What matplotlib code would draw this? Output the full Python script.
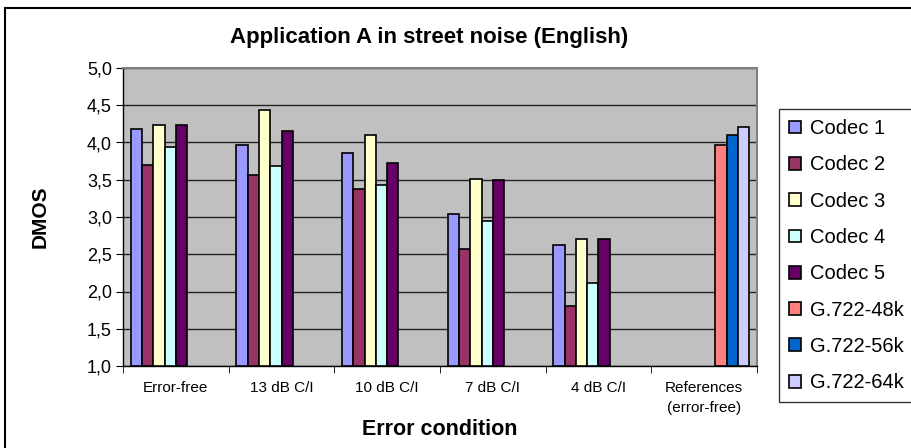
import matplotlib
matplotlib.use("Agg")
import matplotlib.pyplot as plt
import numpy as np
from matplotlib.patches import Rectangle

plt.rcParams['font.family'] = ['Liberation Sans', 'DejaVu Sans']

categories = ["Error-free", "13 dB C/I", "10 dB C/I", "7 dB C/I", "4 dB C/I", "References\n(error-free)"]
series_names = ["Codec 1", "Codec 2", "Codec 3", "Codec 4", "Codec 5", "G.722-48k", "G.722-56k", "G.722-64k"]
codec1 = [4.18, 3.97, 3.86, 3.04, 2.63, None]
codec2 = [3.70, 3.57, 3.38, 2.57, 1.81, None]
codec3 = [4.24, 4.43, 4.10, 3.51, 2.70, None]
codec4 = [3.94, 3.68, 3.43, 2.95, 2.12, None]
codec5 = [4.24, 4.16, 3.73, 3.49, 2.70, None]
g722_48k = [None, None, None, None, None, 3.97]
g722_56k = [None, None, None, None, None, 4.10]
g722_64k = [None, None, None, None, None, 4.21]
colors = ["#9999FF", "#993366", "#FFFFCC", "#CCFFFF", "#660066", "#FF8080", "#0066CC", "#CCCCFF"]
yticks = [1.0, 1.5, 2.0, 2.5, 3.0, 3.5, 4.0, 4.5, 5.0]
ytick_labels = ["1,0", "1,5", "2,0", "2,5", "3,0", "3,5", "4,0", "4,5", "5,0"]

all_series = [codec1, codec2, codec3, codec4, codec5, g722_48k, g722_56k, g722_64k]

W, H = 911, 448
fig = plt.figure(figsize=(W / 100, H / 100), dpi=100)
ax = fig.add_axes([123 / W, 1 - 366 / H, (757 - 123) / W, (366 - 68) / H])
ax.set_facecolor("#C0C0C0")

n = len(all_series)
bw = 0.107
x = np.arange(len(categories))
base = 1.0
for i, (vals, name, col) in enumerate(zip(all_series, series_names, colors)):
    xs, hs = [], []
    for j, v in enumerate(vals):
        if v is not None:
            xs.append(x[j] - n * bw / 2 + (i + 0.5) * bw)
            hs.append(v - base)
    ax.bar(xs, hs, width=bw, bottom=base, color=col, edgecolor="black",
           linewidth=1.2, label=name, zorder=3)

ax.set_xlim(-0.5, len(categories) - 0.5)
ax.set_ylim(1.0, 5.0)
ax.set_yticks(yticks)
ax.set_yticklabels(ytick_labels, fontsize=13)
ax.yaxis.grid(True, color="#222222", linewidth=1.0, zorder=0)
ax.set_axisbelow(True)

ax.set_xticks(x)
ax.set_xticklabels(categories, fontsize=11, linespacing=1.5)
ax.set_xticks(np.arange(len(categories) + 1) - 0.5, minor=True)
ax.tick_params(axis="x", which="major", length=0, pad=11)
ax.tick_params(axis="x", which="minor", length=5, direction="out", color="black")
ax.tick_params(axis="y", length=5, direction="out", pad=3)

for s in ["top", "right"]:
    ax.spines[s].set_color("#808080")
    ax.spines[s].set_linewidth(1.5)
for s in ["left", "bottom"]:
    ax.spines[s].set_color("black")
    ax.spines[s].set_linewidth(1.0)

ax.set_ylabel("DMOS", fontsize=15, fontweight="bold", va="center")
ax.yaxis.set_label_coords((40 - 123) / 634, 0.5)
ax.set_xlabel("Error condition", fontsize=15.5, fontweight="bold", va="center")
ax.xaxis.set_label_coords(0.5, (366 - 429) / 298)
fig.text(429 / W, 1 - 38 / H, "Application A in street noise (English)",
         fontsize=16, fontweight="bold", ha="center", va="center")

leg = fig.legend(loc="upper left", bbox_to_anchor=(779 / W, 1 - 109 / H),
                 fontsize=14.5, frameon=True, fancybox=False, edgecolor="black",
                 handlelength=0.6, handleheight=0.6, handletextpad=0.45,
                 labelspacing=0.86, borderpad=0.5, borderaxespad=0)
leg.get_frame().set_linewidth(1.0)

fig.patches.append(Rectangle((5 / W, -0.1), 1.2, 1.1 - 8 / H, transform=fig.transFigure,
                             fill=False, edgecolor="black", linewidth=1.5))

fig.savefig("out.png", dpi=100)
